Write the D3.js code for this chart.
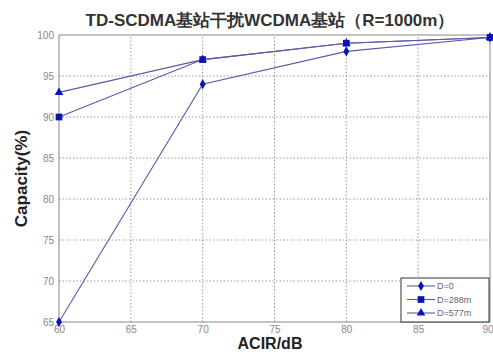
<!DOCTYPE html>
<html>
<head>
<meta charset="utf-8">
<script src="https://cdn.jsdelivr.net/npm/d3@7"></script>
<style>
  body { margin: 0; background: #fff; }
  text { font-family: "Liberation Sans", Arial, sans-serif; }
</style>
</head>
<body>
<div id="chart"></div>
<script>
// chart data
const acir = [60, 70, 80, 90];
const capD0 = [65, 94, 98, 99.7];
const capD288 = [90, 97, 99, 99.7];
const capD577 = [93, 97, 99, 99.7];
const seriesNames = ["D=0", "D=288m", "D=577m"];
const xTicks = [60, 65, 70, 75, 80, 85, 90];
const yTicks = [65, 70, 75, 80, 85, 90, 95, 100];

const width = 493, height = 352;
const margin = {top: 35, right: 3, bottom: 30, left: 59};

const svg = d3.select("#chart").append("svg")
    .attr("width", width)
    .attr("height", height);

const x = d3.scaleLinear().domain([60, 90]).range([margin.left, width - margin.right]);
const y = d3.scaleLinear().domain([65, 100]).range([height - margin.bottom, margin.top]);

const axisColor = "#888";
const lineColor = "#5a5aa8";
const markColor = "#0a14b4";

// grid
svg.append("g").selectAll("line")
    .data(xTicks.slice(1, -1))
    .join("line")
    .attr("x1", d => x(d)).attr("x2", d => x(d))
    .attr("y1", y(65)).attr("y2", y(100))
    .attr("stroke", "#999").attr("stroke-dasharray", "1.5,2");
svg.append("g").selectAll("line")
    .data(yTicks.slice(1, -1))
    .join("line")
    .attr("x1", x(60)).attr("x2", x(90))
    .attr("y1", d => y(d)).attr("y2", d => y(d))
    .attr("stroke", "#999").attr("stroke-dasharray", "1.5,2");

// frame
svg.append("rect")
    .attr("x", x(60)).attr("y", y(100))
    .attr("width", x(90) - x(60)).attr("height", y(65) - y(100))
    .attr("fill", "none").attr("stroke", axisColor);

// axes
const xAxis = svg.append("g")
    .attr("transform", `translate(0,${y(65)})`)
    .call(d3.axisBottom(x).tickValues(xTicks).tickSize(0).tickPadding(4));
const yAxis = svg.append("g")
    .attr("transform", `translate(${x(60)},0)`)
    .call(d3.axisLeft(y).tickValues(yTicks).tickSize(0).tickPadding(5));
[xAxis, yAxis].forEach(a => {
    a.select(".domain").remove();
    a.selectAll("text").attr("fill", "#888").style("font-size", "10px");
});
// keep last x label inside the page
xAxis.selectAll("text").filter(d => d === 90).attr("text-anchor", "end").attr("dx", "3");

// lines + markers
const series = [capD0, capD288, capD577];
const symbols = [d3.symbolDiamond, d3.symbolSquare, d3.symbolTriangle];
const symSize = [30, 45, 32];
const line = d3.line().x((d, i) => x(acir[i])).y(d => y(d));

series.forEach((s, k) => {
    svg.append("path")
        .datum(s)
        .attr("d", line)
        .attr("fill", "none")
        .attr("stroke", lineColor)
        .attr("stroke-width", 1.1);
    svg.append("g").selectAll("path")
        .data(s)
        .join("path")
        .attr("transform", (d, i) => `translate(${x(acir[i])},${y(d)})`)
        .attr("d", d3.symbol().type(symbols[k]).size(symSize[k]))
        .attr("fill", markColor);
});

// legend
const lg = svg.append("g").attr("transform", `translate(401,278)`);
lg.append("rect")
    .attr("width", 88).attr("height", 44)
    .attr("fill", "#fff").attr("stroke", "#333");
seriesNames.forEach((n, k) => {
    const yy = 8 + k * 13.5;
    lg.append("line").attr("x1", 6).attr("x2", 34).attr("y1", yy).attr("y2", yy)
        .attr("stroke", lineColor).attr("stroke-width", 1.1);
    lg.append("path").attr("transform", `translate(20,${yy})`)
        .attr("d", d3.symbol().type(symbols[k]).size(symSize[k]))
        .attr("fill", markColor);
    lg.append("text").attr("x", 36).attr("y", yy).attr("dy", "0.35em")
        .attr("fill", "#666").style("font-size", "9px").text(n);
});

// title and axis labels
svg.append("text")
    .attr("x", 270).attr("y", 26)
    .attr("text-anchor", "middle")
    .attr("fill", "#333")
    .style("font-size", "17px").style("font-weight", "bold")
    .text("TD-SCDMA基站干扰WCDMA基站（R=1000m）");
svg.append("text")
    .attr("x", 270).attr("y", 349)
    .attr("text-anchor", "middle")
    .attr("fill", "#222")
    .style("font-size", "16px").style("font-weight", "bold")
    .text("ACIR/dB");
svg.append("text")
    .attr("transform", `translate(27,${(y(65) + y(100)) / 2}) rotate(-90)`)
    .attr("text-anchor", "middle")
    .attr("fill", "#222")
    .style("font-size", "17px").style("font-weight", "bold")
    .text("Capacity(%)");
</script>
</body>
</html>
